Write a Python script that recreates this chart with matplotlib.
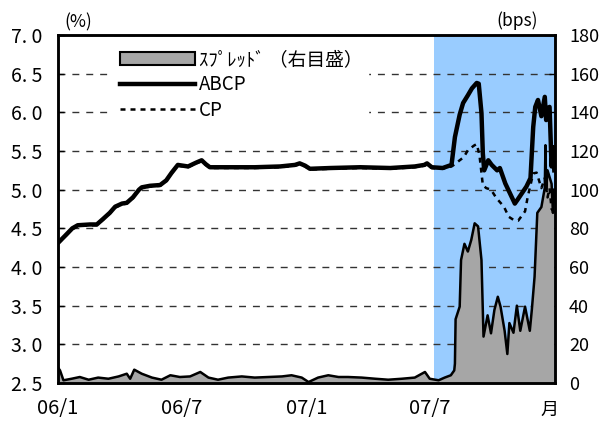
import matplotlib
matplotlib.use("Agg")
import matplotlib.pyplot as plt
from matplotlib.patches import Patch
from matplotlib.lines import Line2D
import pandas as pd

plt.rcParams['font.family'] = ['Noto Sans CJK JP', 'DejaVu Sans']

# ABCP rate (%), left axis
abcp_dates = ['2006-01-02', '2006-01-11', '2006-01-22', '2006-01-30', '2006-02-17', '2006-02-27',
              '2006-03-08', '2006-03-18', '2006-03-26', '2006-04-05', '2006-04-12', '2006-04-21',
              '2006-04-30', '2006-05-04', '2006-05-16', '2006-05-31', '2006-06-09', '2006-06-17',
              '2006-06-26', '2006-07-11', '2006-07-23', '2006-07-31', '2006-08-06', '2006-08-12',
              '2006-09-11', '2006-10-17', '2006-11-23', '2006-12-15', '2006-12-22', '2006-12-30',
              '2007-01-06', '2007-02-05', '2007-03-21', '2007-05-04', '2007-06-09', '2007-06-23',
              '2007-06-27', '2007-07-04', '2007-07-20', '2007-08-02', '2007-08-07', '2007-08-14',
              '2007-08-19', '2007-08-26', '2007-09-01', '2007-09-08', '2007-09-11', '2007-09-15',
              '2007-09-17', '2007-09-19', '2007-09-25', '2007-09-30', '2007-10-08', '2007-10-12',
              '2007-10-20', '2007-10-27', '2007-11-03', '2007-11-07', '2007-11-20', '2007-11-26',
              '2007-11-30', '2007-12-03', '2007-12-07', '2007-12-12', '2007-12-17', '2007-12-19',
              '2007-12-21', '2007-12-24', '2007-12-27', '2007-12-29', '2007-12-31']
abcp = [4.32, 4.40, 4.50, 4.54, 4.55, 4.55,
        4.62, 4.70, 4.78, 4.82, 4.83, 4.90,
        5.00, 5.03, 5.05, 5.06, 5.12, 5.22,
        5.32, 5.30, 5.35, 5.38, 5.33, 5.29,
        5.29, 5.29, 5.30, 5.32, 5.34, 5.31,
        5.27, 5.28, 5.29, 5.28, 5.30, 5.32,
        5.34, 5.29, 5.28, 5.32, 5.68, 5.97,
        6.12, 6.22, 6.31, 6.38, 6.37, 5.99,
        5.47, 5.25, 5.38, 5.32, 5.25, 5.28,
        5.08, 4.95, 4.82, 4.87, 5.04, 5.15,
        5.81, 6.07, 6.16, 5.95, 6.20, 5.90,
        6.05, 6.07, 5.30, 5.55, 5.25]

# CP rate (%), left axis
cp_dates = ['2006-01-02', '2006-01-11', '2006-01-22', '2006-01-30', '2006-02-17', '2006-02-27',
            '2006-03-08', '2006-03-18', '2006-03-26', '2006-04-05', '2006-04-12', '2006-04-21',
            '2006-04-30', '2006-05-04', '2006-05-16', '2006-05-31', '2006-06-09', '2006-06-17',
            '2006-06-26', '2006-07-11', '2006-07-23', '2006-07-31', '2006-08-06', '2006-08-12',
            '2006-09-11', '2006-10-17', '2006-11-23', '2006-12-15', '2006-12-22', '2006-12-30',
            '2007-01-06', '2007-02-05', '2007-03-21', '2007-05-04', '2007-06-09', '2007-06-23',
            '2007-06-27', '2007-07-04', '2007-07-20', '2007-08-02', '2007-08-07', '2007-08-14',
            '2007-08-20', '2007-08-26', '2007-09-04', '2007-09-08', '2007-09-12', '2007-09-17',
            '2007-09-22', '2007-09-29', '2007-10-07', '2007-10-18', '2007-10-25', '2007-11-01',
            '2007-11-08', '2007-11-18', '2007-11-22', '2007-11-30', '2007-12-05', '2007-12-12',
            '2007-12-17', '2007-12-21', '2007-12-24', '2007-12-27', '2007-12-31']
cp = [4.31, 4.39, 4.49, 4.53, 4.54, 4.54,
      4.61, 4.69, 4.77, 4.81, 4.82, 4.89,
      4.99, 5.02, 5.04, 5.05, 5.11, 5.21,
      5.31, 5.29, 5.34, 5.37, 5.32, 5.28,
      5.28, 5.28, 5.29, 5.31, 5.33, 5.30,
      5.26, 5.27, 5.28, 5.27, 5.29, 5.31,
      5.33, 5.28, 5.27, 5.30, 5.33, 5.38,
      5.42, 5.51, 5.57, 5.59, 5.45, 5.06,
      5.02, 5.00, 4.89, 4.78, 4.65, 4.61,
      4.60, 4.72, 4.91, 5.21, 5.22, 5.02,
      5.15, 4.90, 5.02, 4.75, 4.70]

# spread (bps), right axis
spread_dates = ['2006-01-01', '2006-01-04', '2006-01-09', '2006-01-21', '2006-02-02', '2006-02-15',
                '2006-03-01', '2006-03-16', '2006-03-31', '2006-04-12', '2006-04-17', '2006-04-23',
                '2006-05-04', '2006-05-19', '2006-06-02', '2006-06-15', '2006-06-29', '2006-07-14',
                '2006-07-29', '2006-08-10', '2006-08-24', '2006-09-08', '2006-09-28', '2006-10-17',
                '2006-11-06', '2006-11-26', '2006-12-10', '2006-12-25', '2007-01-04', '2007-01-18',
                '2007-02-02', '2007-02-17', '2007-03-03', '2007-03-23', '2007-04-12', '2007-05-01',
                '2007-05-21', '2007-06-09', '2007-06-24', '2007-07-01', '2007-07-14', '2007-07-23',
                '2007-08-01', '2007-08-06', '2007-08-07', '2007-08-08', '2007-08-14', '2007-08-16',
                '2007-08-21', '2007-08-26', '2007-08-31', '2007-09-05', '2007-09-10', '2007-09-15',
                '2007-09-18', '2007-09-24', '2007-09-29', '2007-10-04', '2007-10-09', '2007-10-13',
                '2007-10-19', '2007-10-23', '2007-10-26', '2007-11-01', '2007-11-06', '2007-11-11',
                '2007-11-18', '2007-11-25', '2007-11-28', '2007-12-02', '2007-12-06', '2007-12-12',
                '2007-12-17', '2007-12-18', '2007-12-19', '2007-12-21', '2007-12-27', '2007-12-29',
                '2007-12-31']
spread = [8.0, 6.5, 1.4, 2.2, 3.1, 1.7,
          2.8, 2.2, 3.4, 4.8, 2.2, 6.9,
          4.8, 2.8, 1.7, 4.0, 3.1, 3.4,
          5.7, 2.8, 1.7, 2.8, 3.4, 2.8,
          3.1, 3.4, 4.0, 2.8, 0.5, 2.8,
          4.0, 3.1, 3.1, 2.8, 2.2, 1.7,
          2.2, 2.8, 5.7, 2.2, 1.4, 2.8,
          4.0, 6.5, 10.0, 33.0, 39.5, 63.6,
          72.0, 68.0, 74.0, 82.6, 81.0, 63.6,
          24.0, 35.0, 25.7, 37.8, 44.6, 39.5,
          27.0, 15.0, 31.0, 26.0, 40.0, 27.0,
          39.5, 27.0, 38.0, 55.0, 88.0, 91.0,
          101.0, 123.0, 100.0, 110.0, 103.0, 88.0,
          100.0]

left_ticks = [2.5, 3.0, 3.5, 4.0, 4.5, 5.0, 5.5, 6.0, 6.5, 7.0]
left_labels = ['2. 5', '3. 0', '3. 5', '4. 0', '4. 5', '5. 0', '5. 5', '6. 0', '6. 5', '7. 0']
right_ticks = [0, 20, 40, 60, 80, 100, 120, 140, 160, 180]
x_ticks = ['2006-01-01', '2006-07-01', '2007-01-01', '2007-07-01']
x_labels = ['06/1', '06/7', '07/1', '07/7']
shade = ('2007-07-07', '2008-01-01')

fig = plt.figure(figsize=(6.01, 4.21), dpi=100)
ax2 = fig.add_axes([58 / 601, 1 - 383 / 421, 497 / 601, 348 / 421])
ax = ax2.twinx()
# left-axis lines go on top of the right-axis fill
ax.set_zorder(ax2.get_zorder() + 1)
ax.patch.set_visible(False)
ax.yaxis.tick_left()
ax2.yaxis.tick_right()

ad = pd.to_datetime(abcp_dates)
cd = pd.to_datetime(cp_dates)
sd = pd.to_datetime(spread_dates)

ax2.axvspan(pd.Timestamp(shade[0]), pd.Timestamp(shade[1]), color='#99CCFF', zorder=0.1, lw=0)
ax2.fill_between(sd, spread, 0, facecolor='#A6A6A6', edgecolor='none', zorder=1)
ax2.plot(sd, spread, color='black', lw=1.8, zorder=2)
ax2.set_ylim(0, 180)
ax2.set_yticks(right_ticks)
ax2.set_axisbelow(True)
ax2.yaxis.grid(True, linestyle=(0, (5, 5)), color='#333333', lw=1.0)

ax.plot(cd, cp, color='black', lw=1.8, linestyle=(0, (2, 2)))
ax.plot(ad, abcp, color='black', lw=3.2, solid_joinstyle='round')
ax.set_ylim(2.5, 7.0)
ax.set_yticks(left_ticks)
ax.set_yticklabels(left_labels)

ax2.set_xlim(pd.Timestamp('2006-01-01'), pd.Timestamp('2008-01-01'))
ax2.set_xticks(pd.to_datetime(x_ticks))
ax2.set_xticklabels(x_labels)

ax.tick_params(axis='y', direction='in', length=4, width=1, labelsize=14, pad=11)
ax2.tick_params(axis='y', direction='in', length=4, width=1, labelsize=13, pad=10,
                left=False, right=True)
ax2.tick_params(axis='x', length=0, labelsize=14.5, pad=11)
ax.tick_params(axis='x', length=0)

for a in (ax, ax2):
    for s in a.spines.values():
        s.set_linewidth(1.8)
        s.set_color('black')

fig.text(78 / 601, 1 - 22 / 421, '(%)', ha='center', va='center', fontsize=12.5)
fig.text(517 / 601, 1 - 21 / 421, '(bps)', ha='center', va='center', fontsize=12.5)
fig.text(549 / 601, 1 - 410 / 421, '月', ha='center', va='center', fontsize=13)

handles = [Patch(facecolor='#A6A6A6', edgecolor='black', lw=1.5),
           Line2D([], [], color='black', lw=3.2),
           Line2D([], [], color='black', lw=1.8, linestyle=(0, (2, 2)))]
labels = ['ｽﾌﾟﾚｯﾄﾞ （右目盛）', 'ABCP', 'CP']
leg = ax.legend(handles, labels, loc='upper left', bbox_to_anchor=(0.113, 0.975),
                fontsize=13.5, handlelength=4.0, handleheight=0.7, handletextpad=0.2,
                labelspacing=0.22, borderpad=0.3, borderaxespad=0, frameon=True,
                fancybox=False, framealpha=1, facecolor='white', edgecolor='white')

fig.savefig('out.png', dpi=100)
